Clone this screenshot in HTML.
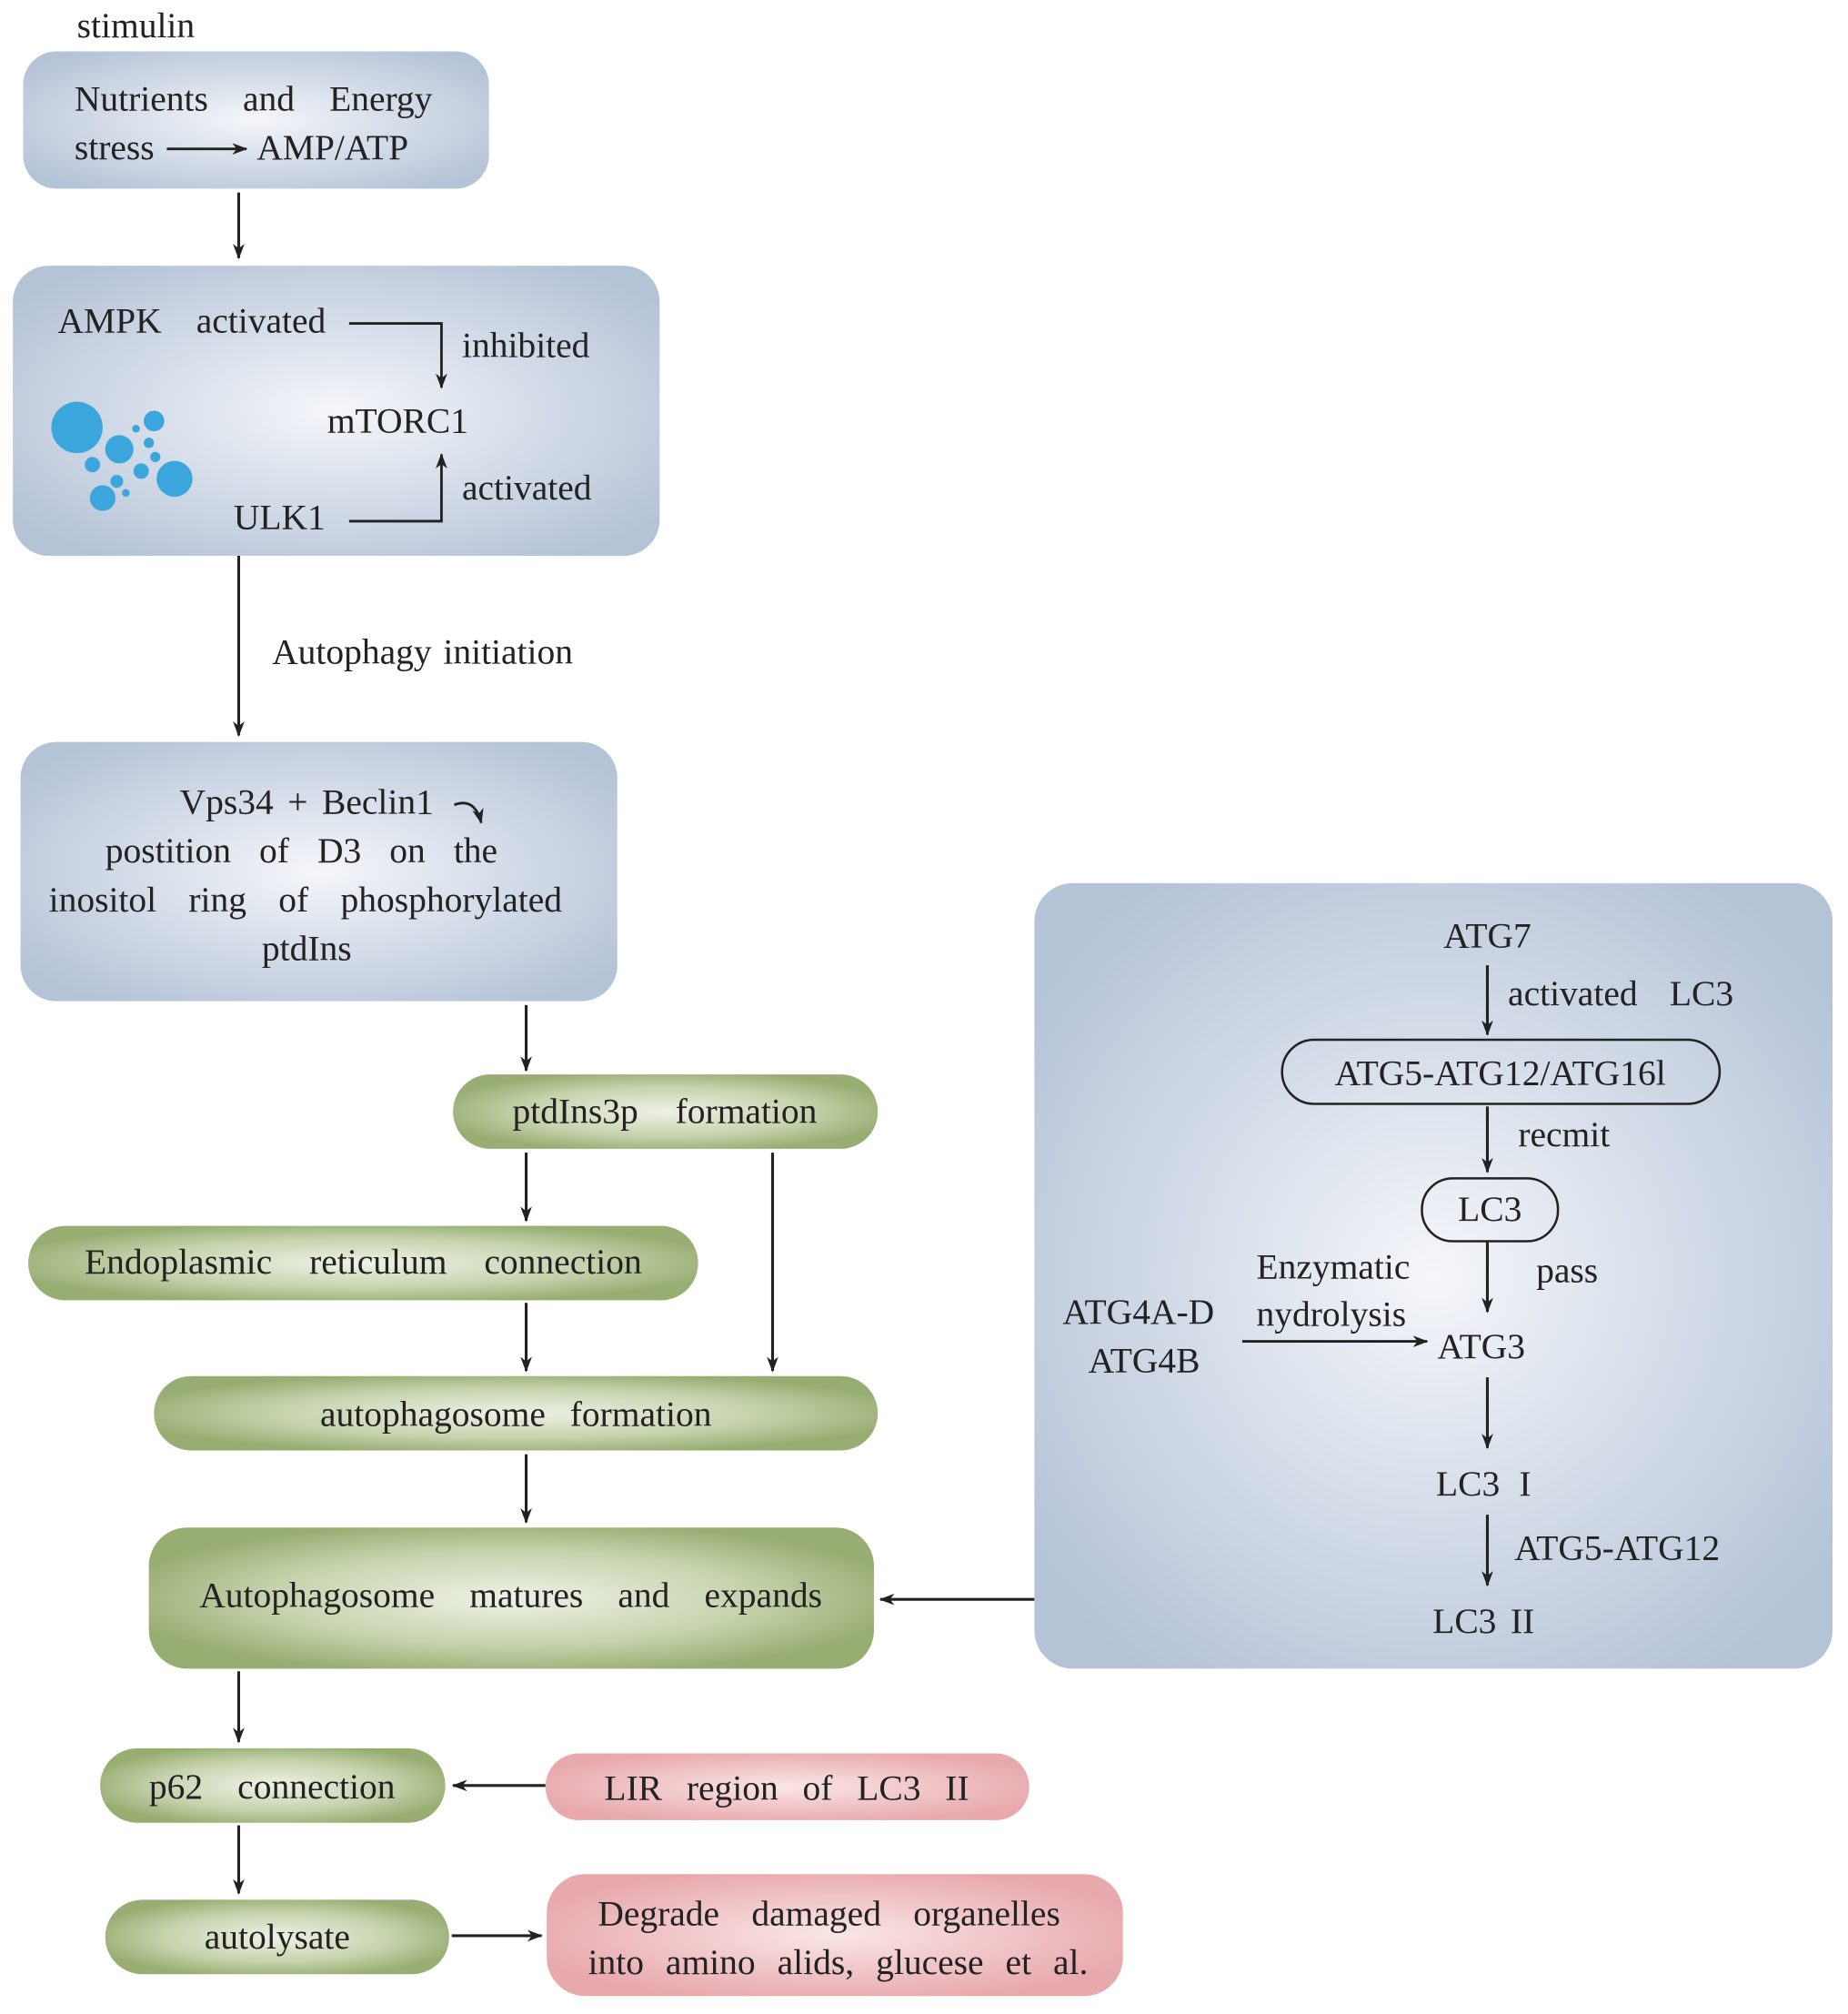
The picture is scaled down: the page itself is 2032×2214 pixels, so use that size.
<!DOCTYPE html>
<html><head><meta charset="utf-8"><style>
html,body{margin:0;padding:0;background:#fff}
svg{display:block}
text{font-family:"Liberation Serif",serif;font-size:28px;fill:#222}
</style></head><body>
<svg width="2032" height="2214" viewBox="0 0 1440 1569" preserveAspectRatio="none" xmlns="http://www.w3.org/2000/svg">
<defs>
<radialGradient id="bl" cx="50%" cy="50%" r="62%"><stop offset="0" stop-color="#f4f6fa"/><stop offset="1" stop-color="#b5c3d7"/></radialGradient>
<radialGradient id="gr" cx="50%" cy="50%" r="55%"><stop offset="0" stop-color="#eef2e6"/><stop offset="0.6" stop-color="#c6d3ad"/><stop offset="1" stop-color="#98ad72"/></radialGradient>
<radialGradient id="pk" cx="50%" cy="50%" r="55%"><stop offset="0" stop-color="#fae6e6"/><stop offset="1" stop-color="#e8a9ad"/></radialGradient>
<marker id="a" markerWidth="12" markerHeight="12" refX="11" refY="6" orient="auto" markerUnits="userSpaceOnUse"><path d="M0,1.5 L12,6 L0,10.5 L3.5,6 Z" fill="#222"/></marker>
</defs>
<text x="60" y="29">stimulin</text>
<rect x="18" y="40" width="363" height="107" rx="26" fill="url(#bl)"/>
<text x="58" y="86" style="word-spacing:20px">Nutrients and Energy</text>
<text x="58" y="124">stress</text>
<text x="200" y="124">AMP/ATP</text>
<line x1="130" y1="116" x2="192" y2="116" stroke="#222" stroke-width="2" marker-end="url(#a)"/>
<line x1="186" y1="150" x2="186" y2="201" stroke="#222" stroke-width="2.2" marker-end="url(#a)"/>

<rect x="10" y="207" width="504" height="226" rx="28" fill="url(#bl)"/>
<text x="45" y="259" style="word-spacing:20px">AMPK activated</text>
<text x="360" y="278">inhibited</text>
<text x="255" y="337">mTORC1</text>
<text x="182" y="412">ULK1</text>
<text x="360" y="389">activated</text>
<path d="M272,252 H344 V302" stroke="#222" stroke-width="2" fill="none" marker-end="url(#a)"/>
<path d="M272,406 H344 V354" stroke="#222" stroke-width="2" fill="none" marker-end="url(#a)"/>
<g fill="#3aa6dc">
<circle cx="60" cy="333" r="20"/><circle cx="93" cy="350" r="11"/><circle cx="120" cy="328" r="8"/><circle cx="136" cy="373" r="14"/><circle cx="80" cy="388" r="10"/><circle cx="72" cy="362" r="6"/><circle cx="110" cy="367" r="6"/><circle cx="91" cy="375" r="5"/><circle cx="116" cy="345" r="4"/><circle cx="121" cy="356" r="4"/><circle cx="98" cy="384" r="3"/><circle cx="106" cy="334" r="3"/>
</g>
<line x1="186" y1="433" x2="186" y2="573" stroke="#222" stroke-width="2.2" marker-end="url(#a)"/>
<text x="212" y="517" style="word-spacing:2px">Autophagy initiation</text>

<rect x="16" y="578" width="465" height="202" rx="28" fill="url(#bl)"/>
<text x="140" y="634" style="word-spacing:4px">Vps34 + Beclin1</text>
<path d="M354,627 Q370,621 375,641" stroke="#222" stroke-width="2" fill="none" marker-end="url(#a)"/>
<text x="82" y="672" style="word-spacing:15px">postition of D3 on the</text>
<text x="38" y="710" style="word-spacing:18px">inositol ring of phosphorylated</text>
<text x="204" y="748">ptdIns</text>

<line x1="410" y1="783" x2="410" y2="834" stroke="#222" stroke-width="2.2" marker-end="url(#a)"/>
<rect x="353" y="837" width="331" height="58" rx="29" fill="url(#gr)"/>
<text x="518" y="875" text-anchor="middle" style="word-spacing:22px">ptdIns3p formation</text>
<line x1="410" y1="898" x2="410" y2="951" stroke="#222" stroke-width="2.2" marker-end="url(#a)"/>
<line x1="602" y1="898" x2="602" y2="1068" stroke="#222" stroke-width="2.2" marker-end="url(#a)"/>
<rect x="22" y="955" width="522" height="58" rx="29" fill="url(#gr)"/>
<text x="283" y="992" text-anchor="middle" style="word-spacing:22px">Endoplasmic reticulum connection</text>
<line x1="410" y1="1015" x2="410" y2="1068" stroke="#222" stroke-width="2.2" marker-end="url(#a)"/>
<rect x="120" y="1072" width="564" height="58" rx="29" fill="url(#gr)"/>
<text x="402" y="1111" text-anchor="middle" style="word-spacing:12px">autophagosome formation</text>
<line x1="410" y1="1133" x2="410" y2="1186" stroke="#222" stroke-width="2.2" marker-end="url(#a)"/>
<rect x="116" y="1190" width="565" height="110" rx="30" fill="url(#gr)"/>
<text x="398" y="1252" text-anchor="middle" style="word-spacing:20px">Autophagosome matures and expands</text>
<line x1="806" y1="1246" x2="686" y2="1246" stroke="#222" stroke-width="2.2" marker-end="url(#a)"/>

<rect x="806" y="688" width="622" height="612" rx="30" fill="url(#bl)"/>
<text x="1159" y="738" text-anchor="middle">ATG7</text>
<line x1="1159" y1="752" x2="1159" y2="806" stroke="#222" stroke-width="2.2" marker-end="url(#a)"/>
<text x="1175" y="783" style="word-spacing:18px">activated LC3</text>
<rect x="999" y="810" width="341" height="50" rx="25" fill="none" stroke="#222" stroke-width="1.8"/>
<text x="1169" y="845" text-anchor="middle">ATG5-ATG12/ATG16l</text>
<line x1="1159" y1="862" x2="1159" y2="913" stroke="#222" stroke-width="2.2" marker-end="url(#a)"/>
<text x="1183" y="893">recmit</text>
<rect x="1108" y="918" width="106" height="49" rx="24" fill="none" stroke="#222" stroke-width="1.8"/>
<text x="1161" y="951" text-anchor="middle">LC3</text>
<line x1="1159" y1="967" x2="1159" y2="1022" stroke="#222" stroke-width="2.2" marker-end="url(#a)"/>
<text x="1197" y="999">pass</text>
<text x="979" y="996">Enzymatic</text>
<text x="979" y="1033">nydrolysis</text>
<text x="828" y="1031">ATG4A-D</text>
<text x="848" y="1069">ATG4B</text>
<line x1="968" y1="1045" x2="1112" y2="1045" stroke="#222" stroke-width="2" marker-end="url(#a)"/>
<text x="1120" y="1058">ATG3</text>
<line x1="1159" y1="1073" x2="1159" y2="1128" stroke="#222" stroke-width="2.2" marker-end="url(#a)"/>
<text x="1156" y="1165" text-anchor="middle" style="word-spacing:8px">LC3 I</text>
<line x1="1159" y1="1180" x2="1159" y2="1235" stroke="#222" stroke-width="2.2" marker-end="url(#a)"/>
<text x="1180" y="1215">ATG5-ATG12</text>
<text x="1156" y="1272" text-anchor="middle" style="word-spacing:4px">LC3 II</text>

<line x1="186" y1="1302" x2="186" y2="1357" stroke="#222" stroke-width="2.2" marker-end="url(#a)"/>
<rect x="78" y="1362" width="269" height="58" rx="29" fill="url(#gr)"/>
<text x="212" y="1401" text-anchor="middle" style="word-spacing:20px">p62 connection</text>
<rect x="425" y="1366" width="377" height="52" rx="26" fill="url(#pk)"/>
<text x="613" y="1402" text-anchor="middle" style="word-spacing:12px">LIR region of LC3 II</text>
<line x1="425" y1="1391" x2="353" y2="1391" stroke="#222" stroke-width="2.2" marker-end="url(#a)"/>
<line x1="186" y1="1422" x2="186" y2="1475" stroke="#222" stroke-width="2.2" marker-end="url(#a)"/>
<rect x="82" y="1480" width="268" height="58" rx="29" fill="url(#gr)"/>
<text x="216" y="1518" text-anchor="middle">autolysate</text>
<line x1="352" y1="1508" x2="422" y2="1508" stroke="#222" stroke-width="2.2" marker-end="url(#a)"/>
<rect x="426" y="1460" width="449" height="95" rx="30" fill="url(#pk)"/>
<text x="646" y="1500" text-anchor="middle" style="word-spacing:18px">Degrade damaged organelles</text>
<text x="653" y="1538" text-anchor="middle" style="word-spacing:10px">into amino alids, glucese et al.</text>
</svg>
</body></html>
